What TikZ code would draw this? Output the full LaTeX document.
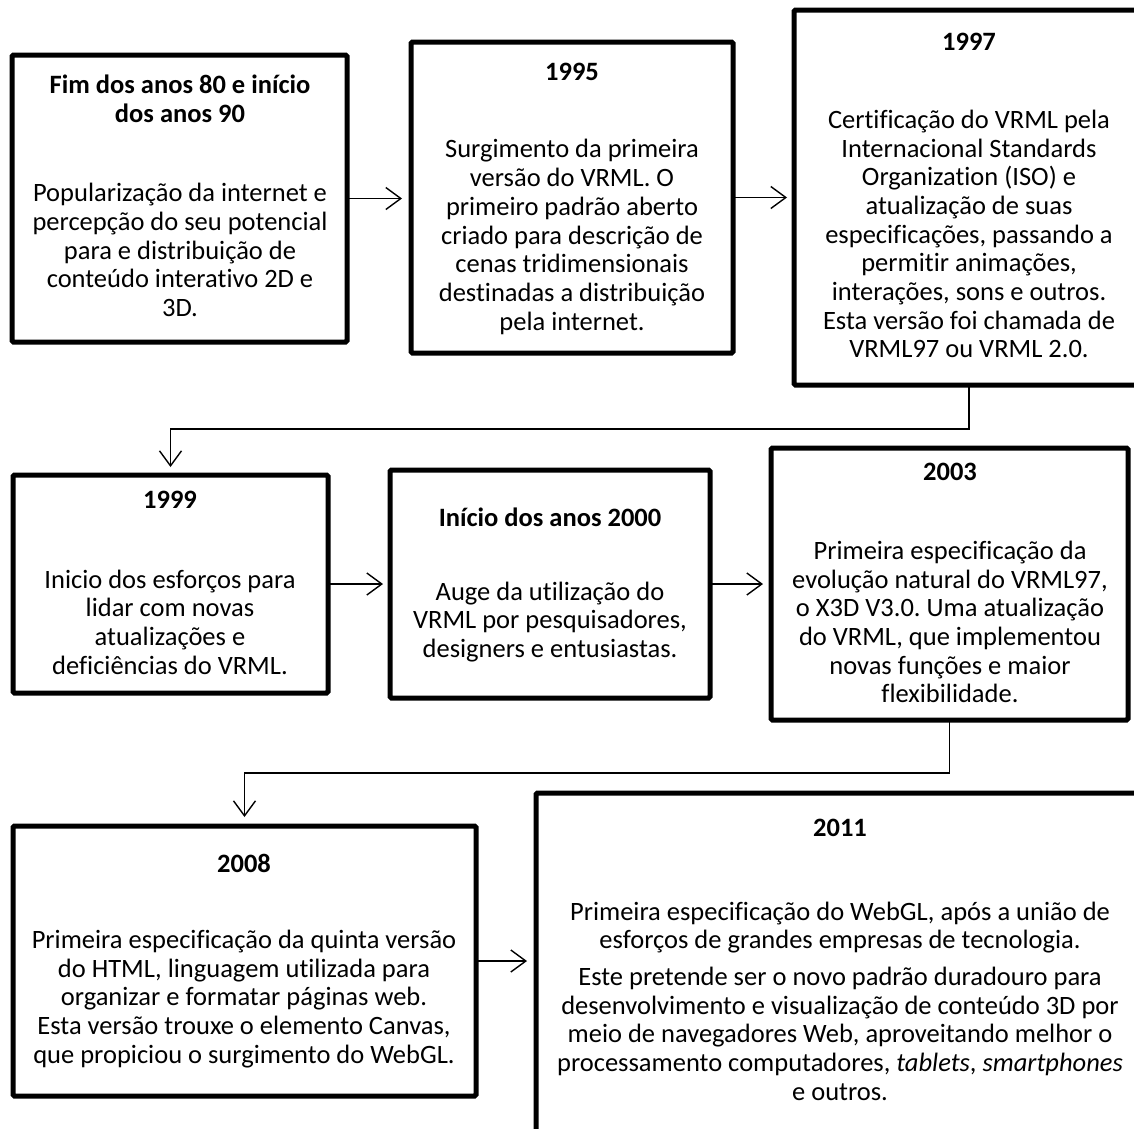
\documentclass[tikz,border=0pt]{standalone}
\usepackage{fontspec}
\setmainfont{Carlito}[Ligatures=CommonOff]
\usetikzlibrary{arrows.meta}
\frenchspacing
\begin{document}
\begin{tikzpicture}[x=1pt,y=-1pt,
  box/.style={draw, line width=5pt, rounded corners=1.5pt, inner sep=0pt, outer sep=0pt, anchor=north west},
  ttl/.style={font=\fontsize{26.5}{28.7}\selectfont\bfseries, align=center, inner sep=0pt},
  txt/.style={font=\fontsize{26.5}{28.7}\selectfont, align=center, inner sep=0pt},
  conn/.style={line width=1.4pt, -{Straight Barb[length=15pt,width=22pt,line width=1.4pt]}}
]
\clip (0,0) rectangle (1134,1128);
\fill[white] (0,0) rectangle (1134,1128);
% boxes
\node[box, minimum width=335pt, minimum height=287pt] (b1) at (12,55) {};
\node[box, minimum width=322pt, minimum height=311pt] (b2) at (411,42) {};
\node[box, minimum width=350pt, minimum height=375pt] (b3) at (794,10) {};
\node[box, minimum width=315pt, minimum height=218pt] (b4) at (13,475) {};
\node[box, minimum width=320pt, minimum height=228pt] (b5) at (390,470) {};
\node[box, minimum width=357pt, minimum height=272pt] (b6) at (771,448) {};
\node[box, minimum width=463pt, minimum height=270pt] (b7) at (13,826) {};
\node[box, minimum width=608pt, minimum height=360pt] (b8) at (536,793) {};
% texts
\node[ttl] (t1) at (180,99) {Fim dos anos 80 e início\\dos anos 90};
\node[txt] (d1) at (180,250) {Popularização da internet e\\percepção do seu potencial\\para e distribuição de\\conteúdo interativo 2D e\\3D.};
\node[ttl] (t2) at (572,72) {1995};
\node[txt] (d2) at (572,237) {Surgimento da primeira\\versão do VRML. O\\primeiro padrão aberto\\criado para descrição de\\cenas tridimensionais\\destinadas a distribuição\\pela internet.};
\node[ttl] (t3) at (969,42) {1997};
\node[txt] (d3) at (969,234) {Certificação do VRML pela\\Internacional Standards\\Organization (ISO) e\\atualização de suas\\especificações, passando a\\permitir animações,\\interações, sons e outros.\\Esta versão foi chamada de\\VRML97 ou VRML 2.0.};
\node[ttl] (t4) at (170,500) {1999};
\node[txt] (d4) at (170,622) {Inicio dos esforços para\\lidar com novas\\atualizações e\\deficiências do VRML.};
\node[ttl] (t5) at (550,517) {Início dos anos 2000};
\node[txt] (d5) at (550,622) {Auge da utilização do\\VRML por pesquisadores,\\designers e entusiastas.};
\node[ttl] (t6) at (950,472) {2003};
\node[txt] (d6) at (950,622) {Primeira especificação da\\evolução natural do VRML97,\\o X3D V3.0. Uma atualização\\do VRML, que implementou\\novas funções e maior\\flexibilidade.};
\node[ttl] (t7) at (244,863) {2008};
\node[txt] (d7) at (244,999) {Primeira especificação da quinta versão\\do HTML, linguagem utilizada para\\organizar e formatar páginas web.\\Esta versão trouxe o elemento Canvas,\\que propiciou o surgimento do WebGL.};
\node[ttl] (t8) at (840,828) {2011};
\node[txt] (d8) at (840,1001) {Primeira especificação do WebGL, após a união de\\esforços de grandes empresas de tecnologia.\\[8pt]Este pretende ser o novo padrão duradouro para\\desenvolvimento e visualização de conteúdo 3D por\\meio de navegadores Web, aproveitando melhor o\\processamento computadores, \textit{tablets}, \textit{smartphones}\\e outros.};
% connectors
\draw[conn, shorten >=9pt] (b1.east) -- (b1.east -| b2.west);
\draw[conn, shorten >=7pt] (b2.east) -- (b2.east -| b3.west);
\draw[conn, shorten >=8pt] (b3.south) -- ++(0,44) -| (b4.north);
\draw[conn, shorten >=7pt] (b4.east) -- (b4.east -| b5.west);
\draw[conn, shorten >=8pt] (b5.east) -- (b5.east -| b6.west);
\draw[conn, shorten >=9pt] (b6.south) -- ++(0,53) -| (b7.north);
\draw[conn, shorten >=9pt] (b7.east) -- (b7.east -| b8.west);
\end{tikzpicture}
\end{document}
